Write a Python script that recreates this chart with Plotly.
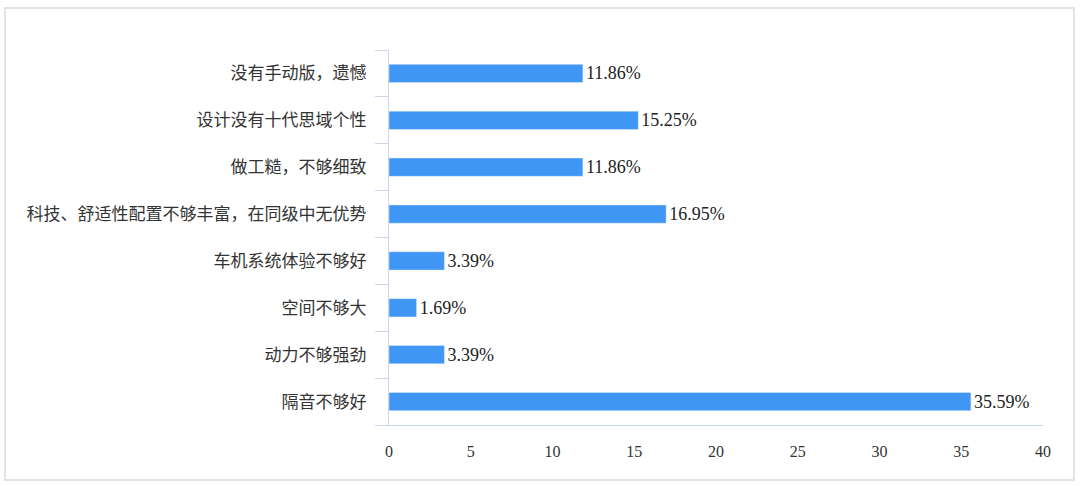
import plotly.graph_objects as go

# categories listed top to bottom as in the picture
categories = [
    "没有手动版，遗憾",
    "设计没有十代思域个性",
    "做工糙，不够细致",
    "科技、舒适性配置不够丰富，在同级中无优势",
    "车机系统体验不够好",
    "空间不够大",
    "动力不够强劲",
    "隔音不够好",
]
shares = [11.86, 15.25, 11.86, 16.95, 3.39, 1.69, 3.39, 35.59]
x_ticks = [0, 5, 10, 15, 20, 25, 30, 35, 40]

W, H = 1080, 486
L, R, T, B = 389, 37, 50, 61
pw, ph = W - L - R, H - T - B

fig = go.Figure(go.Bar(
    y=categories,
    x=shares,
    orientation="h",
    marker_color="#3f96f5",
    text=[f"{v:.2f}%" for v in shares],
    textposition="outside",
    constraintext="none",
    textfont=dict(size=18, color="#222", family="Liberation Serif"),
    cliponaxis=False,
))

fig.update_layout(
    width=W,
    height=H,
    margin=dict(l=L, r=R, t=T, b=B),
    paper_bgcolor="white",
    plot_bgcolor="white",
    bargap=0.61,
    showlegend=False,
    font=dict(family="Liberation Serif, Noto Sans CJK SC", size=15, color="#333"),
    xaxis=dict(
        range=[0, 40],
        tickvals=x_ticks,
        showgrid=False,
        zeroline=False,
        showline=True,
        linecolor="#ccd6eb",
        ticks="outside",
        ticklen=12,
        tickcolor="rgba(0,0,0,0)",
        tickfont=dict(size=16, color="#333", family="Liberation Serif"),
    ),
    yaxis=dict(
        categoryorder="array",
        categoryarray=categories[::-1],
        showgrid=False,
        showline=True,
        linecolor="#ccd6eb",
        ticks="outside",
        tickson="boundaries",
        ticklen=13,
        tickcolor="#ccd6eb",
        ticklabelstandoff=18,
        tickfont=dict(size=17, color="#333", family="Noto Sans CJK SC"),
    ),
    shapes=[dict(
        type="rect",
        xref="paper", yref="paper",
        x0=(5 - L) / pw, x1=(1074 - L) / pw,
        y0=(H - B - 480) / ph, y1=(H - B - 8) / ph,
        line=dict(color="#e3e3e3", width=2),
        fillcolor="rgba(0,0,0,0)",
        layer="below",
    )],
)

# drop the browser's default body margin so the figure sits at 0,0
fig.write_html(
    "out.html",
    config={"displayModeBar": False},
    post_script="document.body.style.margin='0';",
)
